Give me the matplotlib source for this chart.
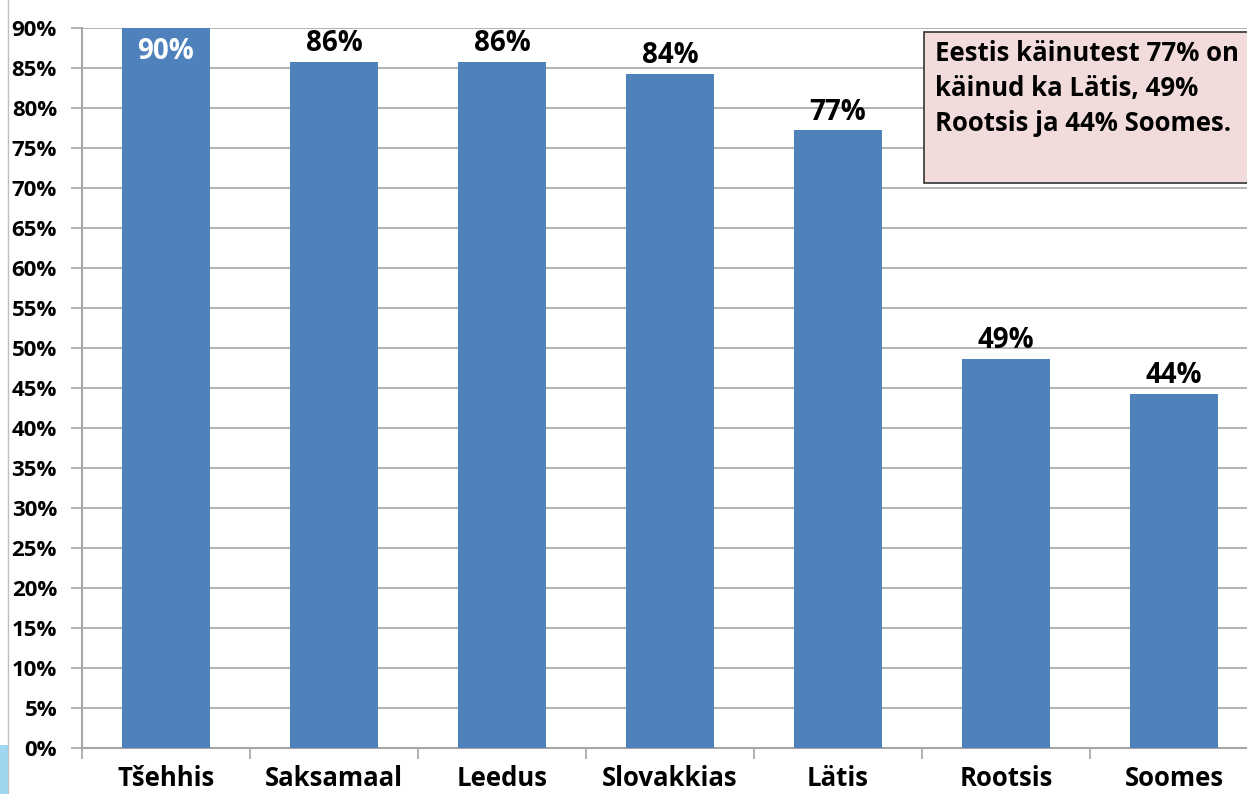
import matplotlib.pyplot as plt
from matplotlib.patches import Rectangle

# -------- DATA --------
countries = ["Tšehhis", "Saksamaal", "Leedus", "Slovakkias", "Lätis", "Rootsis", "Soomes"]
values = [90, 85.75, 85.75, 84.3, 77.2, 48.6, 44.3]
labels = ["90%", "86%", "86%", "84%", "77%", "49%", "44%"]
note = "Eestis käinutest 77% on\nkäinud ka Lätis, 49%\nRootsis ja 44% Soomes."

bar_color = "#4F81BD"
grid_color = "#A6A6A6"

plt.rcParams["font.family"] = ["Open Sans", "DejaVu Sans"]

W, H = 1247, 794
fig = plt.figure(figsize=(W / 100, H / 100), dpi=100)
ax = fig.add_axes([82 / W, 46 / H, (W - 82) / W, 720 / H])

x = range(len(countries))
ax.bar(x, values, width=88 / 168, color=bar_color, zorder=3)

# value labels
for i, (v, lab) in enumerate(zip(values, labels)):
    if v >= 89:
        ax.text(i, v - 2.9, lab, ha="center", va="center", color="white",
                fontsize=20, fontweight="bold", zorder=4)
    else:
        ax.text(i, v + 2.3, lab, ha="center", va="center", color="black",
                fontsize=20, fontweight="bold", zorder=4)

# -------- AXES --------
ax.set_yticks(range(0, 91, 5))
ax.set_yticklabels([f"{t}%" for t in range(0, 91, 5)], fontsize=16, fontweight="bold")
ax.set_xticks(list(x))
ax.set_xticklabels(countries, fontsize=18.5, fontweight="bold")
ax.set_xticks([i - 0.5 for i in range(len(countries))], minor=True)
ax.set_ylim(0, 90)
ax.set_xlim(-0.5, 6.5 - 11 / 168)
ax.tick_params(axis="x", which="major", length=0, pad=12)
ax.tick_params(axis="x", which="minor", length=8, color=grid_color, width=1.2)
ax.tick_params(axis="y", length=8, color=grid_color, width=1.2, pad=10)
ax.yaxis.grid(True, color=grid_color, linewidth=1.2, zorder=0)
for s in ["top", "right"]:
    ax.spines[s].set_visible(False)
for s in ["left", "bottom"]:
    ax.spines[s].set_color(grid_color)
    ax.spines[s].set_linewidth(1.5)

# -------- NOTE BOX --------
fig.patches.append(Rectangle((924 / W, (H - 183) / H), 340 / W, 151 / H,
                             transform=fig.transFigure, facecolor="#F2DCDB",
                             edgecolor="#333333", linewidth=1.2, zorder=5))
fig.text(935 / W, (H - 40) / H, note, ha="left", va="top", fontsize=18.5,
         fontweight="bold", linespacing=1.38, zorder=6)

# left border decoration
fig.add_artist(plt.Line2D([8 / W, 8 / W], [0, 1], color="#BFBFBF", linewidth=1))
fig.patches.append(Rectangle((0, 0), 8 / W, 49 / H, transform=fig.transFigure,
                             facecolor="#9DD7F0", edgecolor="none"))

plt.savefig("out.png", dpi=100)
